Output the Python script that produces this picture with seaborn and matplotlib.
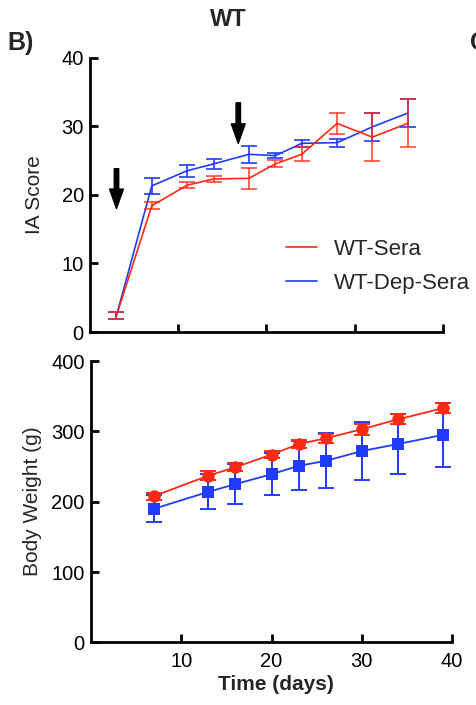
import pandas as pd
import matplotlib
matplotlib.use("Agg")
import matplotlib.pyplot as plt
import seaborn as sns

# IA score (mean +/- SEM)
ia_days = [3, 7, 11, 14, 18, 21, 24, 28, 32, 36]
ia_sera = [2.4, 18.4, 21.4, 22.3, 22.4, 24.5, 25.9, 30.4, 28.4, 30.4]
ia_sera_err = [0.5, 0.5, 0.4, 0.4, 1.5, 0.5, 1.0, 1.5, 3.5, 3.5]
ia_dep = [2.4, 21.3, 23.5, 24.5, 25.9, 25.7, 27.5, 27.6, 29.9, 31.9]
ia_dep_err = [0.5, 1.2, 0.9, 0.7, 1.2, 0.4, 0.5, 0.6, 2.0, 2.0]

# body weight (g)
bw_days = [7, 13, 16, 20, 23, 26, 30, 34, 39]
bw_sera = [208, 237, 249, 267, 282, 290, 303, 317, 333]
bw_sera_err = [5, 6, 6, 5, 5, 6, 8, 7, 7]
bw_dep = [190, 214, 225, 239, 251, 258, 272, 282, 295]
bw_dep_err = [19, 25, 29, 30, 35, 39, 41, 42, 45]

groups = ["WT-Dep-Sera", "WT-Sera"]   # draw blue first so red sits on top
colors = {"WT-Sera": "#ff2a14", "WT-Dep-Sera": "#1f3cff"}
arrow_days = [3, 16.8]
arrow_tops = [23.8, 33.4]
arrow_tips = [18.0, 27.5]

ia_df = pd.DataFrame({
    "day": ia_days * 2,
    "score": ia_dep + ia_sera,
    "group": ["WT-Dep-Sera"] * len(ia_days) + ["WT-Sera"] * len(ia_days),
})
bw_df = pd.DataFrame({
    "day": bw_days * 2,
    "weight": bw_dep + bw_sera,
    "group": ["WT-Dep-Sera"] * len(bw_days) + ["WT-Sera"] * len(bw_days),
})

sns.set_style("ticks")
plt.rcParams["font.family"] = ["Liberation Sans", "DejaVu Sans"]

fig = plt.figure(figsize=(4.77, 7.05), dpi=100)
ax1 = fig.add_axes([0.1887, 0.529, 0.740, 0.3894])
ax2 = fig.add_axes([0.1908, 0.0889, 0.757, 0.399])

# --- top: IA score ---
sns.lineplot(data=ia_df, x="day", y="score", hue="group", hue_order=groups,
             palette=colors, lw=1.2, ax=ax1, legend=False)
ax1.errorbar(ia_days, ia_dep, yerr=ia_dep_err, fmt="none", ecolor=colors["WT-Dep-Sera"],
             elinewidth=1.2, capsize=5.5, capthick=1.2, zorder=2)
ax1.errorbar(ia_days, ia_sera, yerr=ia_sera_err, fmt="none", ecolor=colors["WT-Sera"],
             elinewidth=1.2, capsize=5.5, capthick=1.2, alpha=0.85, zorder=3)
for x, top, tip in zip(arrow_days, arrow_tops, arrow_tips):
    ax1.annotate("", xy=(x, tip), xytext=(x, top),
                 arrowprops=dict(facecolor="black", edgecolor="black",
                                 width=3.2, headwidth=10, headlength=14))
ax1.set_xlim(0, 40)
ax1.set_ylim(0, 40)
ax1.set_xticks([10, 20, 30, 40])
ax1.set_yticks([0, 10, 20, 30, 40])
ax1.tick_params(labelbottom=False)
ax1.set_xlabel("")
ax1.set_ylabel("IA Score", fontsize=15)
ax1.yaxis.set_label_coords(-0.13, 0.5)

handles = [plt.Line2D([], [], color=colors[g], lw=1.2) for g in ["WT-Sera", "WT-Dep-Sera"]]
ax1.legend(handles, ["WT-Sera", "WT-Dep-Sera"], loc="upper left",
           bbox_to_anchor=(0.555, 0.34), frameon=False, fontsize=16,
           handlelength=1.4, handletextpad=0.75, labelspacing=0.6,
           borderpad=0, borderaxespad=0)

# --- bottom: body weight ---
sns.lineplot(data=bw_df, x="day", y="weight", hue="group", hue_order=groups,
             palette=colors, style="group", markers={"WT-Sera": "o", "WT-Dep-Sera": "s"},
             dashes=False, lw=1.3, markersize=9, markeredgewidth=0, ax=ax2, legend=False)
ax2.errorbar(bw_days, bw_dep, yerr=bw_dep_err, fmt="none", ecolor=colors["WT-Dep-Sera"],
             elinewidth=1.4, capsize=6, capthick=1.4, zorder=1)
ax2.errorbar(bw_days, bw_sera, yerr=bw_sera_err, fmt="none", ecolor=colors["WT-Sera"],
             elinewidth=1.4, capsize=6, capthick=1.4, zorder=1.5)
ax2.set_xlim(0, 40)
ax2.set_ylim(0, 400)
ax2.set_xticks([10, 20, 30, 40])
ax2.set_yticks([0, 100, 200, 300, 400])
ax2.set_xlabel("Time (days)", fontsize=15, fontweight="bold")
ax2.xaxis.set_label_coords(0.512, -0.115)
ax2.set_ylabel("Body Weight (g)", fontsize=15)
ax2.yaxis.set_label_coords(-0.135, 0.5)

for ax in (ax1, ax2):
    for side in ("top", "right"):
        ax.spines[side].set_visible(False)
    for side in ("left", "bottom"):
        ax.spines[side].set_linewidth(2)
        ax.spines[side].set_color("black")
    ax.tick_params(direction="in", length=5.5, width=2, labelsize=14.5, pad=4.5, colors="black")
ax2.tick_params(axis="x", pad=7)

fig.text(228 / 477, 1 - 20 / 705, "WT", fontsize=17, fontweight="bold", ha="center", va="center")
fig.text(7 / 477, 1 - 43 / 705, "B)", fontsize=18, fontweight="bold", ha="left", va="center")
fig.text(470 / 477, 1 - 43 / 705, "C)", fontsize=18, fontweight="bold", ha="left", va="center")

fig.savefig("out.png", dpi=100)
